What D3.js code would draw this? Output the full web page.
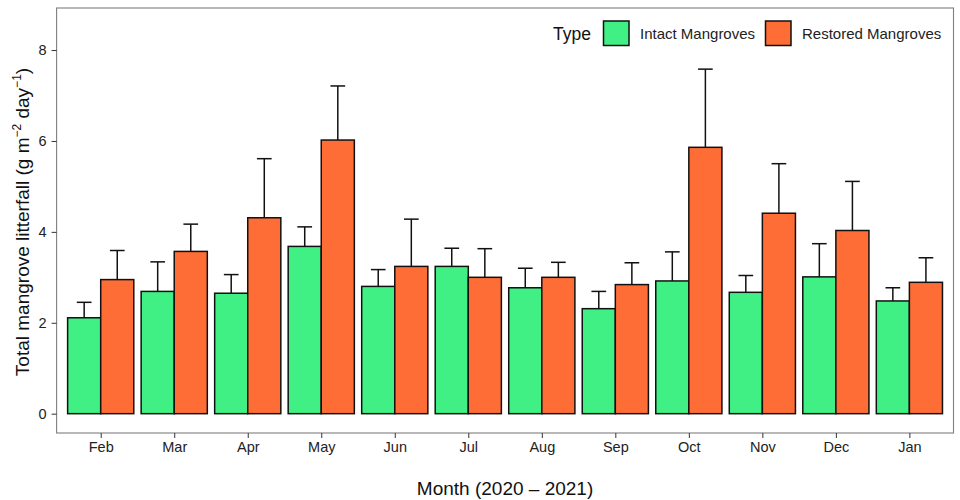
<!DOCTYPE html>
<html>
<head>
<meta charset="utf-8">
<script src="https://cdn.jsdelivr.net/npm/d3@7/dist/d3.min.js"></script>
<style>
  body { margin: 0; background: #fff; }
  svg { display: block; font-family: "Liberation Sans", Arial, sans-serif; }
</style>
</head>
<body>
<svg id="chart" width="960" height="500"></svg>
<script>
const months = ["Feb","Mar","Apr","May","Jun","Jul","Aug","Sep","Oct","Nov","Dec","Jan"];
const types = ["Intact Mangroves","Restored Mangroves"];
const intactMean  = [2.11, 2.69, 2.65, 3.68, 2.80, 3.24, 2.77, 2.31, 2.92, 2.67, 3.01, 2.48];
const intactUpper = [2.45, 3.34, 3.06, 4.11, 3.17, 3.64, 3.20, 2.69, 3.56, 3.04, 3.74, 2.77];
const restoredMean  = [2.95, 3.57, 4.31, 6.02, 3.24, 3.00, 3.00, 2.84, 5.86, 4.41, 4.03, 2.89];
const restoredUpper = [3.59, 4.17, 5.61, 7.21, 4.28, 3.63, 3.33, 3.32, 7.58, 5.50, 5.11, 3.43];
const yTicks = [0, 2, 4, 6, 8];
const colors = ["#41F084", "#FE6D35"];

const data = [];
months.forEach((m, i) => {
  data.push({month: m, type: types[0], mean: intactMean[i], upper: intactUpper[i]});
  data.push({month: m, type: types[1], mean: restoredMean[i], upper: restoredUpper[i]});
});

const svg = d3.select("#chart");
const P = {left: 56.6, right: 953.5, top: 8, bottom: 433};

const x = d3.scalePoint().domain(months).range([P.left, P.right]).padding(0.6);
const step = x.step();
const xSub = d3.scaleBand().domain(types).range([-0.45 * step, 0.45 * step]).padding(0);
const y = d3.scaleLinear().domain([-0.425, 8.925]).range([P.bottom, P.top]);
const color = d3.scaleOrdinal().domain(types).range(colors);

// bars
svg.append("g").selectAll("rect").data(data).join("rect")
  .attr("x", d => x(d.month) + xSub(d.type))
  .attr("width", xSub.bandwidth())
  .attr("y", d => y(d.mean))
  .attr("height", d => y(0) - y(d.mean))
  .attr("fill", d => color(d.type))
  .attr("stroke", "#111")
  .attr("stroke-width", 1.5);

// error bars (upper only)
const capHalf = 0.1 * step;
const eb = svg.append("g").attr("stroke", "#111").attr("stroke-width", 1.5);
data.forEach(d => {
  const cx = x(d.month) + xSub(d.type) + xSub.bandwidth() / 2;
  eb.append("line").attr("x1", cx).attr("x2", cx).attr("y1", y(d.mean)).attr("y2", y(d.upper));
  eb.append("line").attr("x1", cx - capHalf).attr("x2", cx + capHalf).attr("y1", y(d.upper)).attr("y2", y(d.upper));
});

// panel border
svg.append("rect")
  .attr("x", P.left).attr("y", P.top)
  .attr("width", P.right - P.left).attr("height", P.bottom - P.top)
  .attr("fill", "none").attr("stroke", "#7f7f7f").attr("stroke-width", 1.1);

// axes
const xAxis = svg.append("g").attr("transform", `translate(0,${P.bottom})`)
  .call(d3.axisBottom(x).tickSize(5).tickPadding(4));
xAxis.select(".domain").remove();
xAxis.selectAll("line").attr("stroke", "#333");
xAxis.selectAll("text").attr("fill", "#222").style("font-size", "14.5px");

const yAxis = svg.append("g").attr("transform", `translate(${P.left},0)`)
  .call(d3.axisLeft(y).tickValues(yTicks).tickFormat(d3.format("d")).tickSize(5).tickPadding(5));
yAxis.select(".domain").remove();
yAxis.selectAll("line").attr("stroke", "#333");
yAxis.selectAll("text").attr("fill", "#222").style("font-size", "14.5px");

// axis titles
svg.append("text")
  .attr("x", (P.left + P.right) / 2).attr("y", 495)
  .attr("text-anchor", "middle").attr("fill", "#111")
  .style("font-size", "19px")
  .text("Month (2020 \u2013 2021)");

const yt = svg.append("text")
  .attr("transform", `translate(29,${222}) rotate(-90)`)
  .attr("text-anchor", "middle").attr("fill", "#111")
  .style("font-size", "19px");
yt.append("tspan").text("Total mangrove litterfall (g m");
yt.append("tspan").attr("dy", "-8").style("font-size", "12px").text("\u22122");
yt.append("tspan").attr("dy", "8").text(" day");
yt.append("tspan").attr("dy", "-8").style("font-size", "12px").text("\u22121");
yt.append("tspan").attr("dy", "8").text(")");

// legend
const lg = svg.append("g");
lg.append("text").attr("x", 553).attr("y", 40).attr("fill", "#111")
  .style("font-size", "17.5px").text("Type");
const legendX = [603.5, 765.5];
types.forEach((t, i) => {
  lg.append("rect").attr("x", legendX[i]).attr("y", 21).attr("width", 25.5).attr("height", 24.5)
    .attr("fill", color(t)).attr("stroke", "#111").attr("stroke-width", 1.5);
  lg.append("text").attr("x", legendX[i] + 36.5).attr("y", 38.5).attr("fill", "#222")
    .style("font-size", "15px").text(t);
});
</script>
</body>
</html>
